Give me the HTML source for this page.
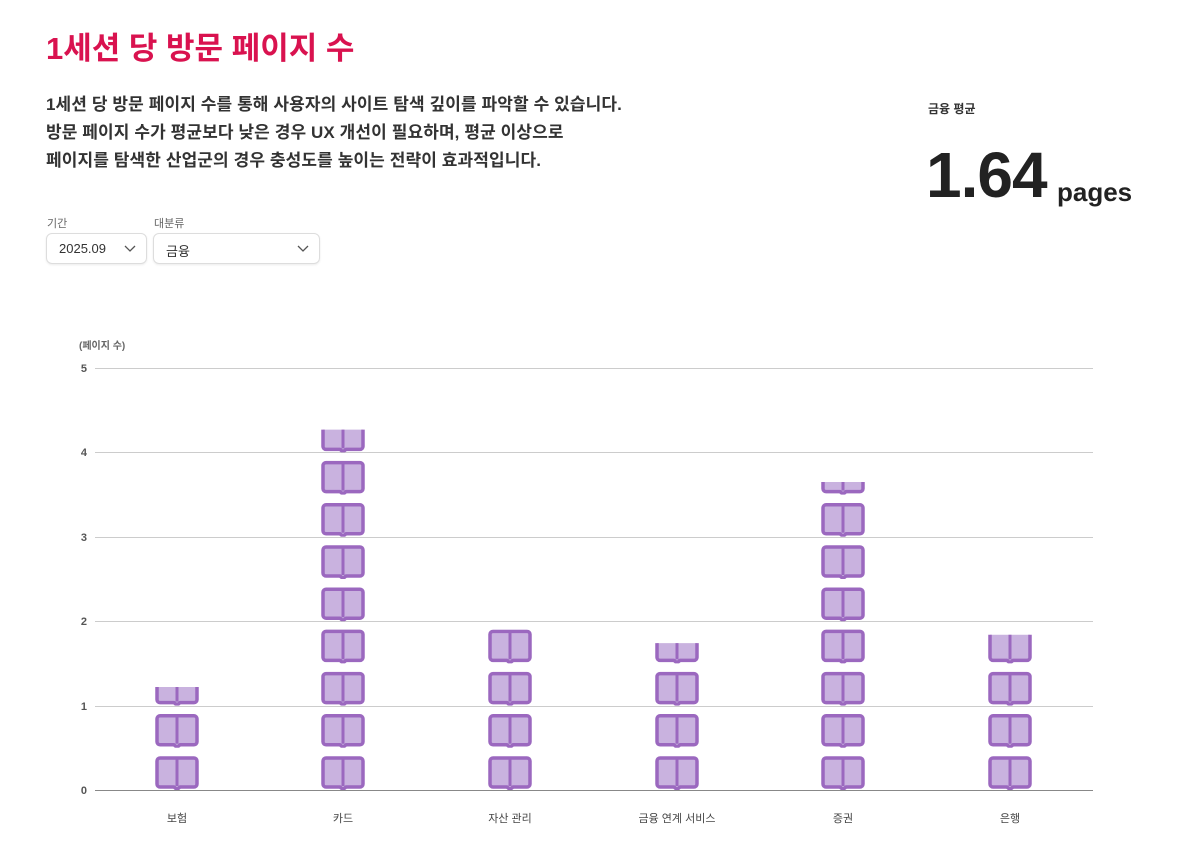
<!DOCTYPE html>
<html><head><meta charset="utf-8"><style>
body{margin:0;width:1200px;height:853px;background:#fff;font-family:"Liberation Sans","Noto Sans CJK KR",sans-serif;position:relative;overflow:hidden}
.a{position:absolute;white-space:nowrap}
h1{position:absolute;left:46px;top:23px;margin:0;font-size:31px;font-weight:700;color:#d9124f}
.p{left:46px;font-size:17px;font-weight:700;color:#333;letter-spacing:0.1px}
.sel{position:absolute;top:233px;height:31px;border:1px solid #ddd;border-radius:6px;box-shadow:0 1px 2px rgba(0,0,0,.08);font-size:13px;color:#333;box-sizing:border-box;padding:7px 0 0 12px}
.sel svg{position:absolute;right:10px;top:11px}
.lab{font-size:11px;color:#666;top:215px}
</style></head><body>
<h1>1세션 당 방문 페이지 수</h1>
<div class="a p" style="top:90px">1세션 당 방문 페이지 수를 통해 사용자의 사이트 탐색 깊이를 파악할 수 있습니다.</div>
<div class="a p" style="top:118px">방문 페이지 수가 평균보다 낮은 경우 UX 개선이 필요하며, 평균 이상으로</div>
<div class="a p" style="top:146px">페이지를 탐색한 산업군의 경우 충성도를 높이는 전략이 효과적입니다.</div>
<div class="a" style="left:928px;top:100px;font-size:12px;color:#333;font-weight:700">금융 평균</div>
<div class="a" style="left:926px;top:138px;font-size:64px;font-weight:700;color:#222;letter-spacing:-1px">1.64</div>
<div class="a" style="left:1057px;top:177px;font-size:26px;font-weight:700;color:#222">pages</div>
<div class="a lab" style="left:47px">기간</div>
<div class="a lab" style="left:154px">대분류</div>
<div class="sel" style="left:46px;width:101px">2025.09<svg width="12" height="8"><path d="M1 1l5 5 5-5" stroke="#555" fill="none" stroke-width="1.3"/></svg></div>
<div class="sel" style="left:153px;width:167px">금융<svg width="12" height="8"><path d="M1 1l5 5 5-5" stroke="#555" fill="none" stroke-width="1.3"/></svg></div>
<svg id="c" width="1200" height="853" style="position:absolute;left:0;top:0" font-family="Liberation Sans, Noto Sans CJK KR, sans-serif">
<defs><symbol id="bk" viewBox="0 0 44 34"><path d="M5 2h34a3 3 0 0 1 3 3v23a3 3 0 0 1-3 3H25l-3 2.5-3-2.5H5a3 3 0 0 1-3-3V5a3 3 0 0 1 3-3z" fill="#c9b2df" stroke="#9b68bf" stroke-width="3.5" stroke-linejoin="round"/><path d="M22 3v27" stroke="#9b68bf" stroke-width="3"/></symbol></defs>
<text x="79" y="349" font-size="10" fill="#666" font-weight="700">(페이지 수)</text>
<g stroke="#ccc" stroke-width="1">
<line x1="95" x2="1093" y1="368.5" y2="368.5"/><line x1="95" x2="1093" y1="452.5" y2="452.5"/><line x1="95" x2="1093" y1="537.5" y2="537.5"/><line x1="95" x2="1093" y1="621.5" y2="621.5"/><line x1="95" x2="1093" y1="706.5" y2="706.5"/></g>
<line x1="95" x2="1093" y1="790.5" y2="790.5" stroke="#888"/>
<g font-size="11" fill="#555" font-weight="700" text-anchor="end">
<text x="87" y="372">5</text><text x="87" y="456">4</text><text x="87" y="541">3</text><text x="87" y="625">2</text><text x="87" y="710">1</text><text x="87" y="794">0</text></g>
<g font-size="11" fill="#444" text-anchor="middle">
<text x="177" y="822">보험</text><text x="343" y="822">카드</text><text x="510" y="822">자산 관리</text><text x="677" y="822">금융 연계 서비스</text><text x="843" y="822">증권</text><text x="1010" y="822">은행</text></g>
<g id="bars"></g>
</svg>
<script>
var d=[[177,1.22],[343,4.27],[510,1.9],[677,1.74],[843,3.65],[1010,1.84]],s='';
d.forEach(function(b,i){var top=790-b[1]*84.4;s+='<clipPath id="k'+i+'"><rect x="0" y="'+top+'" width="1200" height="'+(790-top)+'"/></clipPath><g clip-path="url(#k'+i+')">';
for(var k=0;k*42.2<b[1]*84.4;k++){var y=790-k*42.2-34;s+='<use href="#bk" x="'+(b[0]-22)+'" y="'+y+'" width="44" height="34"/>';}
s+='</g>';});
document.getElementById('bars').innerHTML=s;
</script>
</body></html>
